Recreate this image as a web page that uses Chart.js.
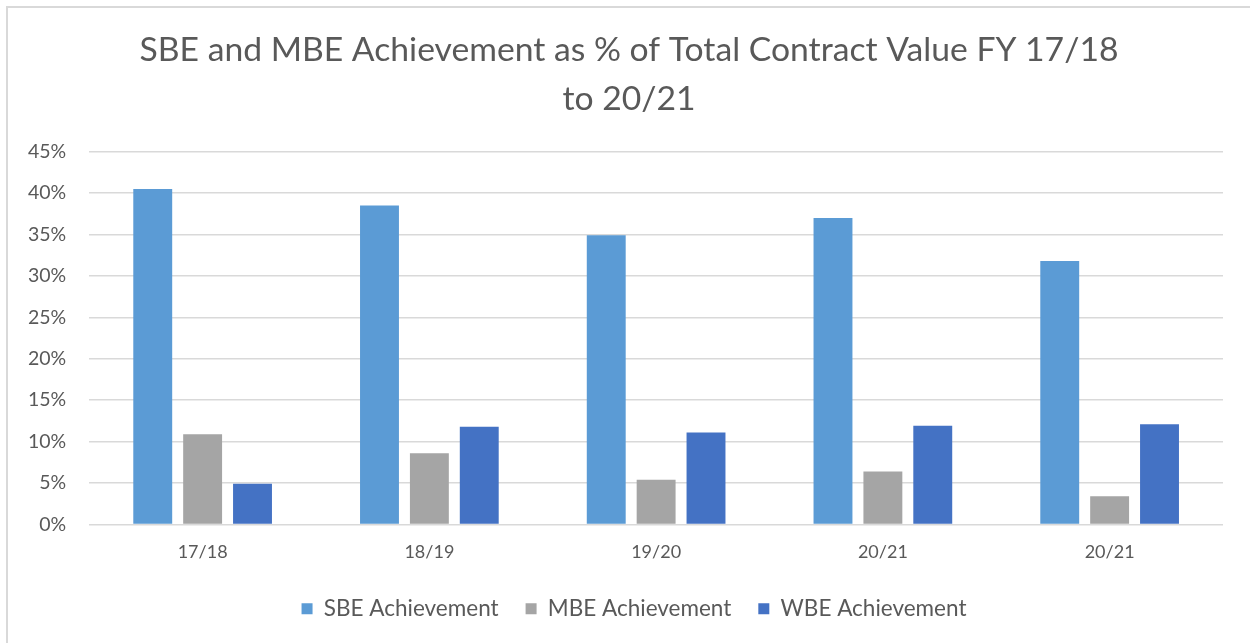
<!DOCTYPE html>
<html>
<head>
<meta charset="utf-8">
<script src="https://cdn.jsdelivr.net/npm/chart.js@4/dist/chart.umd.min.js"></script>
<style>
    html, body { margin: 0; padding: 0; background: #fff; overflow: hidden; }
    #frame {
        position: absolute; left: 6px; top: 6px; width: 1300px; height: 700px;
        border-left: 2px solid #d9d9d9; border-top: 2px solid #d9d9d9;
    }
    #chartBox { position: absolute; left: 0; top: 0; width: 1250px; height: 643px; }
</style>
</head>
<body>
<div id="frame"></div>
<div id="chartBox"><canvas id="achChart"></canvas></div>
<script>
const years = ["17/18", "18/19", "19/20", "20/21", "20/21"];
const sbeValues = [40.5, 38.5, 34.9, 37.0, 31.8];
const mbeValues = [10.9, 8.6, 5.4, 6.4, 3.4];
const wbeValues = [4.9, 11.8, 11.1, 11.9, 12.1];
const seriesNames = ["SBE Achievement", "MBE Achievement", "WBE Achievement"];

const textColor = "#595959";
const fontFamily = "Lato, 'Open Sans', sans-serif";

function makeSet(label, data, color) {
    return {
        label: label,
        data: data,
        backgroundColor: color,
        borderWidth: 0,
        categoryPercentage: 0.66,
        barPercentage: 0.78
    };
}

// title and legend sit a bit right of the plot centre in the original
const shiftBlocks = {
    id: "shiftBlocks",
    afterLayout(chart) {
        if (chart.titleBlock) {
            chart.titleBlock.left += 15;
            chart.titleBlock.right += 15;
        }
        if (chart.legend) {
            chart.legend.left += 20;
            chart.legend.right += 20;
        }
    }
};

const ctx = document.getElementById("achChart").getContext("2d");
new Chart(ctx, {
    type: "bar",
    data: {
        labels: years,
        datasets: [
            makeSet(seriesNames[0], sbeValues, "#5b9bd5"),
            makeSet(seriesNames[1], mbeValues, "#a5a5a5"),
            makeSet(seriesNames[2], wbeValues, "#4472c4")
        ]
    },
    options: {
        responsive: true,
        maintainAspectRatio: false,
        animation: false,
        layout: { padding: { left: 5, right: 27, top: 0, bottom: 13 } },
        plugins: {
            title: {
                display: true,
                text: ["SBE and MBE Achievement as % of Total Contract Value FY 17/18", "to 20/21"],
                color: textColor,
                font: { family: fontFamily, size: 33.7, weight: "normal", lineHeight: 1.45 },
                padding: { top: 26, bottom: 28 }
            },
            legend: {
                position: "bottom",
                labels: {
                    color: textColor,
                    font: { family: fontFamily, size: 22.5 },
                    boxWidth: 11,
                    boxHeight: 11,
                    padding: 27
                }
            },
            tooltip: { enabled: false }
        },
        scales: {
            x: {
                grid: { display: false },
                border: { display: false },
                ticks: { color: textColor, font: { family: fontFamily, size: 18, lineHeight: 0.45 }, padding: 16 },
                afterFit: (scale) => { scale.height -= 2; }
            },
            y: {
                min: 0,
                max: 45,
                grid: { color: "#d9d9d9", lineWidth: 1.5, drawTicks: false },
                border: { display: false },
                ticks: {
                    stepSize: 5,
                    color: textColor,
                    font: { family: fontFamily, size: 19.5 },
                    padding: 23,
                    callback: (v) => v + "%"
                }
            }
        }
    },
    plugins: [shiftBlocks]
});
</script>
</body>
</html>
